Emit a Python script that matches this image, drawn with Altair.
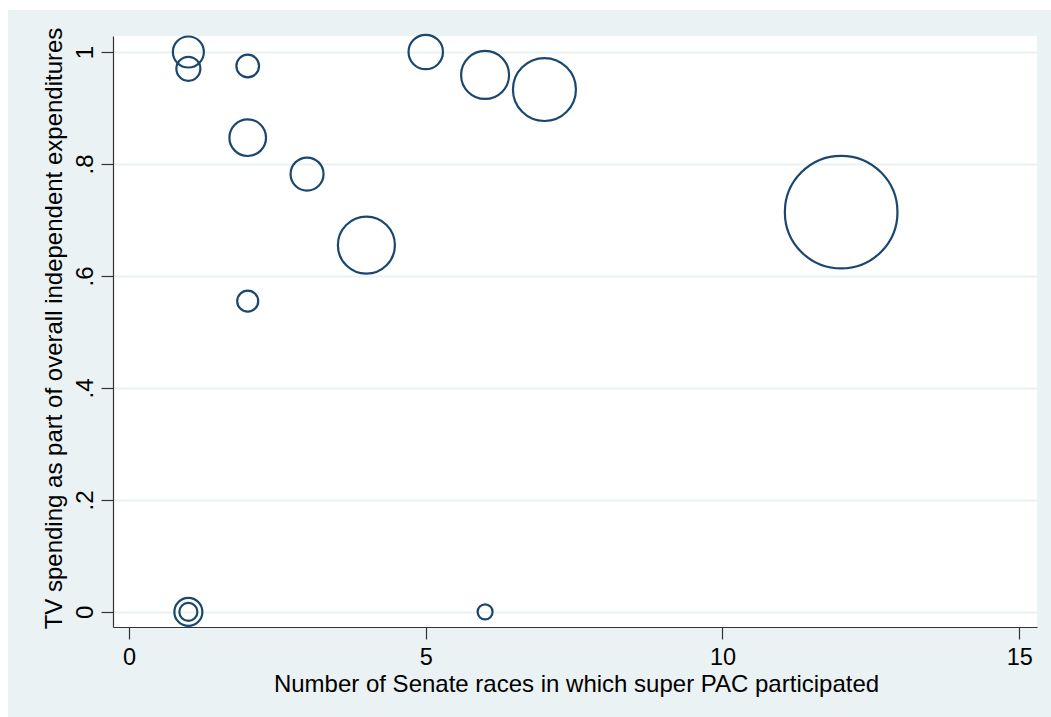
import altair as alt
import pandas as pd

# Super PACs: number of Senate races entered vs. TV share of independent spending,
# bubble area weighted by total spending.
races = [1, 1, 2, 2, 3, 4, 2, 5, 6, 7, 12, 1, 1, 6]
tv_share = [1.0, 0.970, 0.975, 0.847, 0.782, 0.655, 0.555, 1.0, 0.959, 0.933, 0.714, 0.0, 0.0, 0.0]
weight = [2.40, 1.44, 1.28, 3.35, 2.72, 8.12, 1.10, 2.96, 5.76, 9.92, 31.7, 1.96, 0.81, 0.56]

x_ticks = [0, 5, 10, 15]
y_ticks = [0, 0.2, 0.4, 0.6, 0.8, 1.0]

df = pd.DataFrame({"races": races, "tv_share": tv_share, "weight": weight})

W, H = 924, 591
PAD_L, PAD_T, PAD_R, PAD_B = 113, 36, 14, 90
BG = "#EAF2F3"
NAVY = "#1A476F"
FONT = "Liberation Sans"

bubbles = alt.Chart(df).mark_point(
    shape="circle", filled=False, strokeWidth=2.2, color=NAVY, opacity=1
).encode(
    x=alt.X(
        "races:Q",
        scale=alt.Scale(domain=[-0.27, 15.3], nice=False, zero=False),
        axis=alt.Axis(
            values=x_ticks,
            title="Number of Senate races in which super PAC participated",
            grid=False,
            labelBaseline="alphabetic",
            labelPadding=25,
            labelFontSize=23.5,
            titleX=W / 2 + 1,
            titleY=64,
            titleBaseline="alphabetic",
            titleAlign="center",
        ),
    ),
    y=alt.Y(
        "tv_share:Q",
        scale=alt.Scale(domain=[-0.027, 1.0286], nice=False, zero=False),
        axis=alt.Axis(
            values=y_ticks,
            title="TV spending as part of overall independent expenditures",
            grid=True,
            labelAngle=270,
            labelAlign="center",
            labelBaseline="alphabetic",
            labelPadding=9,
            labelExpr="datum.value == 0 || datum.value == 1 ? format(datum.value, 'd') : substring(format(datum.value, '.1f'), 1)",
            titleX=-52,
            titleY=292,
            titleAngle=270,
            titleBaseline="alphabetic",
            titleAlign="center",
        ),
    ),
    size=alt.Size(
        "weight:Q",
        scale=alt.Scale(domain=[0, 40], range=[0, 400 * 40]),
        legend=None,
    ),
)

# White margin strips along the left and top edges of the page
edge_left = alt.Chart(df).mark_rect(color="white").encode(
    x=alt.value(-PAD_L), x2=alt.value(-PAD_L + 8),
    y=alt.value(-PAD_T), y2=alt.value(H + PAD_B),
)
edge_top = alt.Chart(df).mark_rect(color="white").encode(
    x=alt.value(-PAD_L), x2=alt.value(W + PAD_R),
    y=alt.value(-PAD_T), y2=alt.value(-PAD_T + 10),
)

chart = alt.layer(edge_left, edge_top, bubbles).properties(
    width=W,
    height=H,
    background=BG,
    padding={"left": PAD_L, "top": PAD_T, "right": PAD_R, "bottom": PAD_B},
    autosize=alt.AutoSizeParams(type="none"),
).configure_view(
    fill="white", stroke=None
).configure_axis(
    labelFont=FONT,
    titleFont=FONT,
    labelFontSize=24,
    titleFontSize=24,
    labelColor="black",
    titleColor="black",
    titleFontWeight="normal",
    domainColor="#333333",
    domainWidth=1.2,
    tickColor="#333333",
    tickWidth=1.2,
    tickSize=12,
    gridColor=BG,
    gridWidth=2,
)

chart.save("out.html", embed_options={"renderer": "svg", "actions": False})
